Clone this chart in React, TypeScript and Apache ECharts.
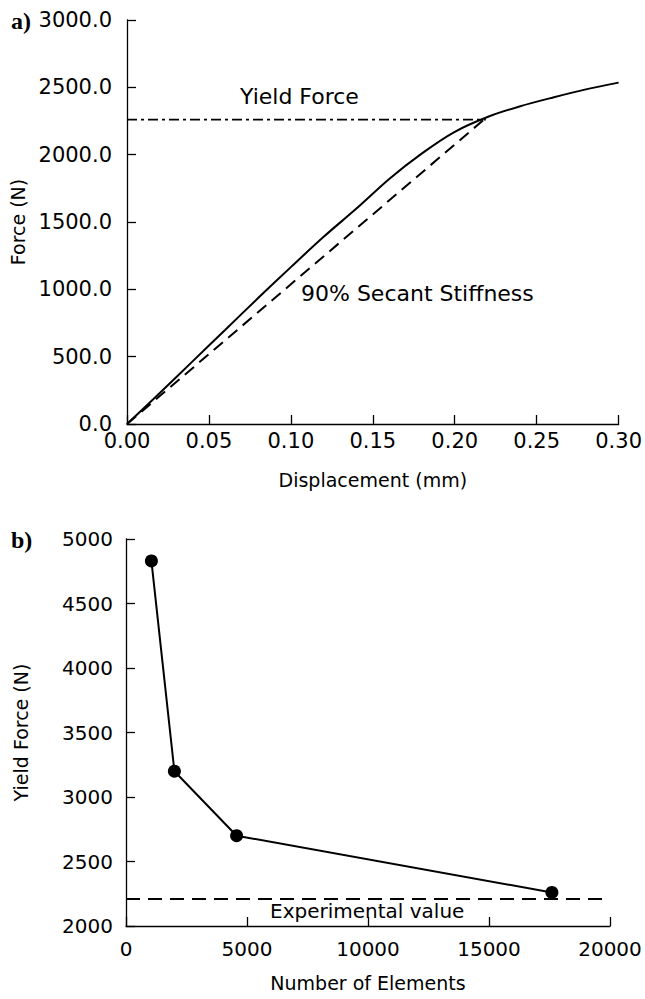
import React, { useEffect, useRef } from "react";
import * as echarts from "echarts";

// ---- Panel a: force vs displacement ----
const dispMm = [0, 0.02, 0.04, 0.06, 0.08, 0.1, 0.12, 0.14, 0.16, 0.18, 0.2, 0.22, 0.24, 0.26, 0.28, 0.3];
const forceN = [0, 230, 465, 700, 935, 1165, 1390, 1600, 1820, 2010, 2170, 2280, 2360, 2425, 2485, 2535];
const secantDisp = [0, 0.218];
const secantForce = [0, 2262];
const yieldLineDisp = [0, 0.219];
const yieldForceValue = 2260;

// ---- Panel b: yield force vs number of elements ----
const elementCounts = [1050, 2000, 4570, 17600];
const yieldForces = [4830, 3200, 2700, 2260];
const experimentalDisp = [0, 19750];
const experimentalValue = 2210;

const xTicksA = { min: 0, max: 0.3, interval: 0.05 };
const yTicksA = { min: 0, max: 3000, interval: 500 };
const xTicksB = { min: 0, max: 20000, interval: 5000 };
const yTicksB = { min: 2000, max: 5000, interval: 500 };

const FONT = "DejaVu Sans";

export default function App() {
  const ref = useRef<HTMLDivElement>(null);
  useEffect(() => {
    if (!ref.current) return;
    const chart = echarts.init(ref.current, null, { renderer: "svg" });
    const axisLine = { show: true, onZero: false, lineStyle: { color: "#000", width: 1.3 } };
    const axisTick = { show: true, inside: true, length: 9, lineStyle: { color: "#000", width: 1.3 } };
    const nameStyle = { fontSize: 19, color: "#000", fontFamily: FONT };
    const option: any = {
      animation: false,
      backgroundColor: "#fff",
      grid: [
        { left: 127, top: 20, width: 494, height: 404 },
        { left: 126, top: 539, width: 484, height: 387 },
      ],
      xAxis: [
        {
          gridIndex: 0, type: "value", ...xTicksA,
          axisLine, axisTick, splitLine: { show: false },
          axisLabel: { formatter: (v: number) => v.toFixed(2), fontSize: 21, color: "#000", fontFamily: FONT, margin: 6 },
          name: "Displacement (mm)", nameLocation: "middle", nameGap: 46, nameTextStyle: nameStyle,
        },
        {
          gridIndex: 1, type: "value", ...xTicksB,
          axisLine, axisTick, splitLine: { show: false },
          axisLabel: { formatter: (v: number) => String(v), fontSize: 20, color: "#000", fontFamily: FONT, margin: 13 },
          name: "Number of Elements", nameLocation: "middle", nameGap: 47, nameTextStyle: nameStyle,
        },
      ],
      yAxis: [
        {
          gridIndex: 0, type: "value", ...yTicksA,
          axisLine, axisTick, splitLine: { show: false },
          axisLabel: { formatter: (v: number) => v.toFixed(1), fontSize: 21, color: "#000", fontFamily: FONT, margin: 15 },
          name: "Force (N)", nameLocation: "middle", nameGap: 96, nameTextStyle: nameStyle,
        },
        {
          gridIndex: 1, type: "value", ...yTicksB,
          axisLine, axisTick, splitLine: { show: false },
          axisLabel: { formatter: (v: number) => String(v), fontSize: 20, color: "#000", fontFamily: FONT, margin: 13 },
          name: "Yield Force (N)", nameLocation: "middle", nameGap: 96, nameTextStyle: nameStyle,
        },
      ],
      series: [
        {
          type: "line", xAxisIndex: 0, yAxisIndex: 0, showSymbol: false, symbol: "none", smooth: 0.3,
          data: dispMm.map((d, i) => [d, forceN[i]]),
          lineStyle: { color: "#000", width: 2 },
        },
        {
          type: "line", xAxisIndex: 0, yAxisIndex: 0, showSymbol: false, symbol: "none",
          data: secantDisp.map((d, i) => [d, secantForce[i]]),
          lineStyle: { color: "#000", width: 2, type: [12, 7] },
        },
        {
          type: "line", xAxisIndex: 0, yAxisIndex: 0, showSymbol: false, symbol: "none",
          data: yieldLineDisp.map((d) => [d, yieldForceValue]),
          lineStyle: { color: "#000", width: 1.6, type: [10, 4, 3, 4] },
        },
        {
          type: "line", xAxisIndex: 1, yAxisIndex: 1, symbol: "circle", symbolSize: 13,
          data: elementCounts.map((n, i) => [n, yieldForces[i]]),
          lineStyle: { color: "#000", width: 2 },
          itemStyle: { color: "#000" },
        },
        {
          type: "line", xAxisIndex: 1, yAxisIndex: 1, showSymbol: false, symbol: "none",
          data: experimentalDisp.map((n) => [n, experimentalValue]),
          lineStyle: { color: "#000", width: 2, type: [14, 8] },
        },
      ],
      graphic: [
        { type: "text", left: 11, top: 9, style: { text: "a)", font: "bold 24px 'Liberation Serif'", fill: "#000" } },
        { type: "text", left: 11, top: 528, style: { text: "b)", font: "bold 24px 'Liberation Serif'", fill: "#000" } },
        { type: "text", left: 240, top: 85, style: { text: "Yield Force", font: `22px '${FONT}'`, fill: "#000" } },
        { type: "text", left: 301, top: 282, style: { text: "90% Secant Stiffness", font: `22px '${FONT}'`, fill: "#000" } },
        { type: "text", left: 270, top: 901, style: { text: "Experimental value", font: `20px '${FONT}'`, fill: "#000" } },
      ],
    };
    chart.setOption(option);
    return () => chart.dispose();
  }, []);
  return (
    <div
      ref={ref}
      style={{ position: "fixed", left: 0, top: 0, width: 645, height: 999, background: "#fff" }}
    />
  );
}
